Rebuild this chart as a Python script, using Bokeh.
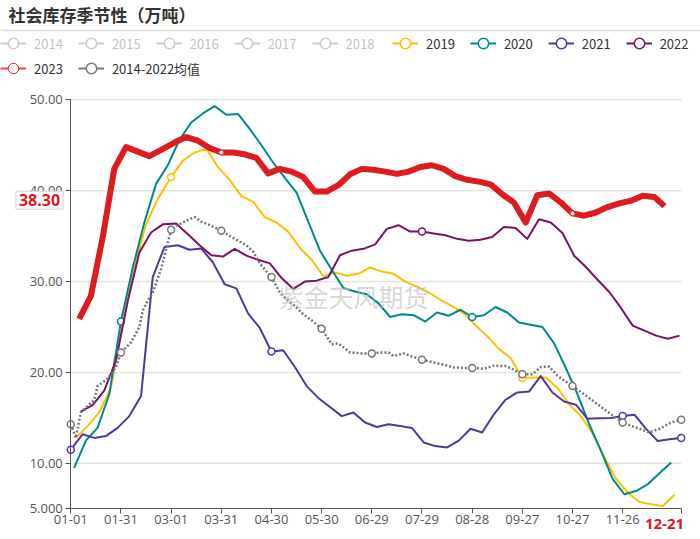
# -*- coding: utf-8 -*-

# Modules
from bokeh.plotting import figure
from bokeh.models import (ColumnDataSource, Range1d, FixedTicker, Legend, LegendItem,
                          Label, Span)
from bokeh.embed import file_html
from bokeh.resources import INLINE

FONT = "Noto Sans CJK SC"
NUM_FONT = "Open Sans"

# Data: x is the day of a leap-year calendar (01-01 = 0), weekly readings
days_2019 = [3, 10, 17, 24, 31, 38, 45, 52] + list(range(60, 362, 7))
vals_2019 = [12.8, 14.1, 15.6, 18.3, 25.3, 31.5, 36.3, 39.1,
             41.5, 43.3, 44.2, 44.6, 42.6, 41.2, 39.4, 38.8, 37.1, 36.5,
             35.5, 33.7, 32.4, 30.6, 31.0, 30.65, 30.85, 31.55, 31.1, 30.85,
             30.0, 29.45, 28.8, 28.0, 27.3, 26.5, 25.2, 24.0, 22.6, 21.6,
             19.4, 19.45, 19.45, 18.3, 16.5, 15.2, 13.3, 10.7, 8.3, 6.8,
             5.75, 5.5, 5.3, 6.55]

days_2020 = list(range(2, 360, 7))
vals_2020 = [9.5, 12.5, 13.9, 17.6, 25.6, 31.5, 36.5, 40.75, 42.8, 45.6,
             47.5, 48.5, 49.3, 48.35, 48.45, 46.8, 45.0, 43.1, 41.4, 39.8,
             36.6, 33.4, 31.3, 29.3, 28.9, 28.6, 27.6, 26.1, 26.4, 26.3,
             25.6, 26.6, 26.25, 26.9, 26.1, 26.3, 27.2, 26.6, 25.5, 25.25,
             25.0, 23.2, 20.5, 17.6, 14.3, 11.4, 8.3, 6.6, 6.95, 7.7,
             8.9, 10.1]

days_2021 = list(range(0, 57, 7)) + list(range(64, 366, 7))
vals_2021 = [11.5, 13.2, 12.8, 13.0, 13.9, 15.2, 17.4, 30.5, 33.8,
             34.0, 33.5, 33.65, 32.1, 29.7, 29.25, 26.5, 24.9, 22.3, 22.45,
             20.6, 18.5, 17.2, 16.2, 15.2, 15.6, 14.5, 14.0, 14.3, 14.1,
             13.9, 12.3, 11.9, 11.75, 12.5, 13.8, 13.4, 15.4, 17.0, 17.8,
             17.9, 19.6, 17.8, 16.8, 16.45, 14.9, 14.95, 15.0, 15.2, 15.35,
             13.8, 12.45, 12.65, 12.8]

days_2022 = list(range(6, 56, 7)) + list(range(63, 365, 7))
vals_2022 = [15.7, 16.4, 18.0, 21.3, 27.8, 33.2, 35.4, 36.3,
             36.4, 35.2, 34.0, 32.9, 32.75, 33.6, 32.85, 32.4, 32.0, 30.4,
             29.2, 30.0, 30.1, 30.5, 32.9, 33.4, 33.6, 34.1, 35.8, 36.2,
             35.5, 35.5, 35.3, 35.1, 34.7, 34.5, 34.6, 34.9, 36.0, 35.9,
             34.7, 36.85, 36.5, 35.35, 32.85, 31.6, 30.2, 28.85, 27.1, 25.15,
             24.6, 24.05, 23.7, 24.05]

days_2023 = list(range(5, 55, 7)) + list(range(62, 350, 7)) + [355]
vals_2023 = [25.9, 28.4, 34.8, 42.4, 44.8, 44.3, 43.8, 44.5,
             45.3, 45.9, 45.5, 44.7, 44.2, 44.2, 44.0, 43.6, 41.9, 42.4,
             42.1, 41.5, 39.9, 39.9, 40.6, 41.8, 42.4, 42.3, 42.1, 41.85,
             42.1, 42.6, 42.8, 42.4, 41.6, 41.2, 41.0, 40.7, 39.6, 38.7,
             36.5, 39.5, 39.7, 38.7, 37.5, 37.25, 37.6, 38.2, 38.6, 38.9,
             39.45, 39.3, 38.3]

days_avg = [0, 3, 6, 10, 14, 16, 22, 27, 30, 36, 41, 43, 46, 49, 54, 58, 60,
            64, 68, 74, 78, 82, 90, 98, 105, 109, 113, 118, 120, 125, 130, 134,
            139, 145, 150, 156, 160, 167, 174, 180, 186, 190, 193, 199, 205, 210,
            217, 222, 229, 235, 240, 247, 253, 260, 265, 270, 276, 281, 286, 291,
            296, 300, 307, 315, 323, 330, 337, 346, 352, 359, 365]
vals_avg = [14.3, 12.8, 15.6, 16.3, 17.0, 18.5, 19.3, 20.6, 22.2, 23.3, 25.0,
            26.8, 27.9, 28.8, 31.4, 34.3, 35.7, 36.2, 36.6, 37.1, 36.6, 36.3,
            35.6, 34.7, 34.0, 33.3, 32.0, 30.9, 30.5, 28.8, 27.9, 27.3, 26.4,
            25.6, 24.8, 23.1, 23.2, 22.2, 22.1, 22.1, 22.2, 22.2, 21.8, 22.1,
            21.7, 21.4, 21.1, 20.9, 20.55, 20.5, 20.5, 20.4, 20.75, 20.7, 20.3,
            19.8, 19.8, 20.6, 20.65, 19.65, 19.0, 18.5, 17.6, 16.5, 15.4, 14.5,
            14.0, 13.4, 13.8, 14.5, 14.8]

hidden_years = ["2014", "2015", "2016", "2017", "2018"]

tick_days = [0, 30, 60, 90, 120, 150, 180, 210, 240, 270, 300, 330, 365]
tick_labels = ["01-01", "01-31", "03-01", "03-31", "04-30", "05-30", "06-29",
               "07-29", "08-28", "09-27", "10-27", "11-26", ""]
y_ticks = [5, 10, 20, 30, 40, 50]
y_labels = ["5.000", "10.00", "20.00", "30.00", "40.00", "50.00"]

latest_day = 355
latest_label = "12-21"
latest_value = 38.30

TITLE = "社会库存季节性（万吨）"
WATERMARK = "紫金天风期货"


# The frame fills the whole canvas; page pixels -> data units for placing things
def px_x(px):
	return (px - 70.3) / 1.6723


def px_y(py):
	return 50 - (py - 99.3) / 9.0889


W, H = 700, 539
p = figure(width=W, height=H, x_range=Range1d(px_x(0), px_x(W)), y_range=Range1d(px_y(H), px_y(0)),
           output_backend="svg", toolbar_location=None,
           min_border_left=0, min_border_right=0, min_border_top=0, min_border_bottom=0)
p.outline_line_color = None
p.background_fill_color = "white"
p.xgrid.grid_line_color = None
p.ygrid.grid_line_color = None

# horizontal grid lines, limited to the data span
grid_y = y_ticks[1:]
p.segment(x0=[tick_days[0]] * len(grid_y), x1=[tick_days[-1]] * len(grid_y), y0=grid_y, y1=grid_y,
          line_color="#e3e3e3", line_width=1.5)

p.xaxis.ticker = FixedTicker(ticks=tick_days)
p.xaxis.major_label_overrides = dict(zip(tick_days, tick_labels))
p.xaxis.fixed_location = y_ticks[0]
p.xaxis.bounds = (tick_days[0], tick_days[-1])
p.yaxis.ticker = FixedTicker(ticks=y_ticks)
p.yaxis.major_label_overrides = dict(zip(y_ticks, y_labels))
p.yaxis.fixed_location = tick_days[0]
p.yaxis.bounds = (y_ticks[0], y_ticks[-1])
for ax in (p.xaxis, p.yaxis):
	ax.axis_line_color = "#555555"
	ax.major_tick_line_color = "#555555"
	ax.major_tick_out = 5
	ax.major_tick_in = 0
	ax.minor_tick_line_color = None
	ax.major_label_text_font = NUM_FONT
	ax.major_label_text_font_size = "13px"
	ax.major_label_text_color = "#555555"
p.xaxis.major_label_standoff = 1
p.yaxis.major_label_standoff = 3


def marks(days, vals):
	# echarts shows a symbol only on labelled dates
	pick = [i for i, d in enumerate(days) if d % 30 == 0 or d == 365]
	return [days[i] for i in pick], [vals[i] for i in pick]


def draw(days, vals, color, width, dash="solid", msize=7, mline=1.5):
	src = ColumnDataSource(dict(x=days, y=vals))
	ln = p.line("x", "y", source=src, line_color=color, line_width=width, line_dash=dash, line_join="round")
	mx, my = marks(days, vals)
	mk = p.scatter(mx, my, marker="circle", size=msize, fill_color="white", line_color=color, line_width=mline)
	return ln, mk


def icon_line(color):
	# draws nothing in the plot, only gives the legend a plain line icon
	src = ColumnDataSource(dict(x=[float("nan")], y=[float("nan")]))
	return p.line("x", "y", source=src, line_color=color, line_width=2)


# switched-off years: no points drawn, greyed legend entries
items_off = []
for yr in hidden_years:
	ln = icon_line("#cccccc")
	mk = p.scatter([float("nan")], [float("nan")], marker="circle", fill_color="white", line_color="#cccccc", line_width=1.5)
	items_off.append(LegendItem(label=yr, renderers=[ln, mk]))

r2019 = draw(days_2019, vals_2019, "#FFC000", 2)
r2020 = draw(days_2020, vals_2020, "#00878A", 2)
r2021 = draw(days_2021, vals_2021, "#4E3A9C", 2)
r2022 = draw(days_2022, vals_2022, "#7C1263", 2)
ravg = draw(days_avg, vals_avg, "#777777", 2.5, dash="2 2")
items_on = [LegendItem(label="2019", renderers=list(r2019)),
            LegendItem(label="2020", renderers=list(r2020)),
            LegendItem(label="2021", renderers=list(r2021)),
            LegendItem(label="2022", renderers=list(r2022))]

r2023 = draw(days_2023, vals_2023, "#DD1C22", 6, msize=5, mline=1)
items_row2 = [LegendItem(label="2023", renderers=[icon_line("#E8484D"), r2023[1]]),
              LegendItem(label="2014-2022均值", renderers=[icon_line("#777777"), ravg[1]])]


def make_legend(items, left_px, bottom_px, text_color="#333333"):
	lg = Legend(items=items, location=(left_px, H - bottom_px), orientation="horizontal",
	            glyph_width=26, glyph_height=26, label_height=26, label_standoff=8, spacing=15,
	            padding=0, margin=0, background_fill_alpha=0, border_line_color=None,
	            label_text_font=FONT, label_text_font_size="13px", label_text_color=text_color,
	            label_text_baseline="middle")
	p.add_layout(lg)


make_legend(items_off, 0, 56, text_color="#c4c4c4")
make_legend(items_on, 392, 56)
make_legend(items_row2, 0, 81)

# title and rule under it
p.add_layout(Label(x=px_x(8), y=px_y(14), text=TITLE, text_font=FONT, text_font_size="17px",
                   text_font_style="bold", text_color="#333333", text_align="left", text_baseline="middle"))
p.add_layout(Span(location=px_y(30), dimension="width", line_color="#dcdcdc", line_width=1.5))

# watermark
p.add_layout(Label(x=169, y=28.45, text=WATERMARK, text_font=FONT, text_font_size="25px",
                   text_color="#bdbdbd", text_alpha=0.6, text_align="center", text_baseline="middle"))

# axis pointer labels
p.add_layout(Label(x=px_x(39), y=latest_value, y_offset=6, text="%.2f" % latest_value, text_font=NUM_FONT,
                   text_font_size="16px", text_font_style="bold", text_color="#E0161D",
                   text_align="center", text_baseline="middle", background_fill_color="white",
                   border_line_color="#d0d0d0", padding=3))
p.add_layout(Label(x=latest_day, y=px_y(523), text=latest_label, text_font=NUM_FONT,
                   text_font_size="15px", text_font_style="bold", text_color="#E0161D",
                   text_align="center", text_baseline="middle", background_fill_color="white",
                   padding=2))

open("out.html", "w").write(file_html(p, INLINE))
